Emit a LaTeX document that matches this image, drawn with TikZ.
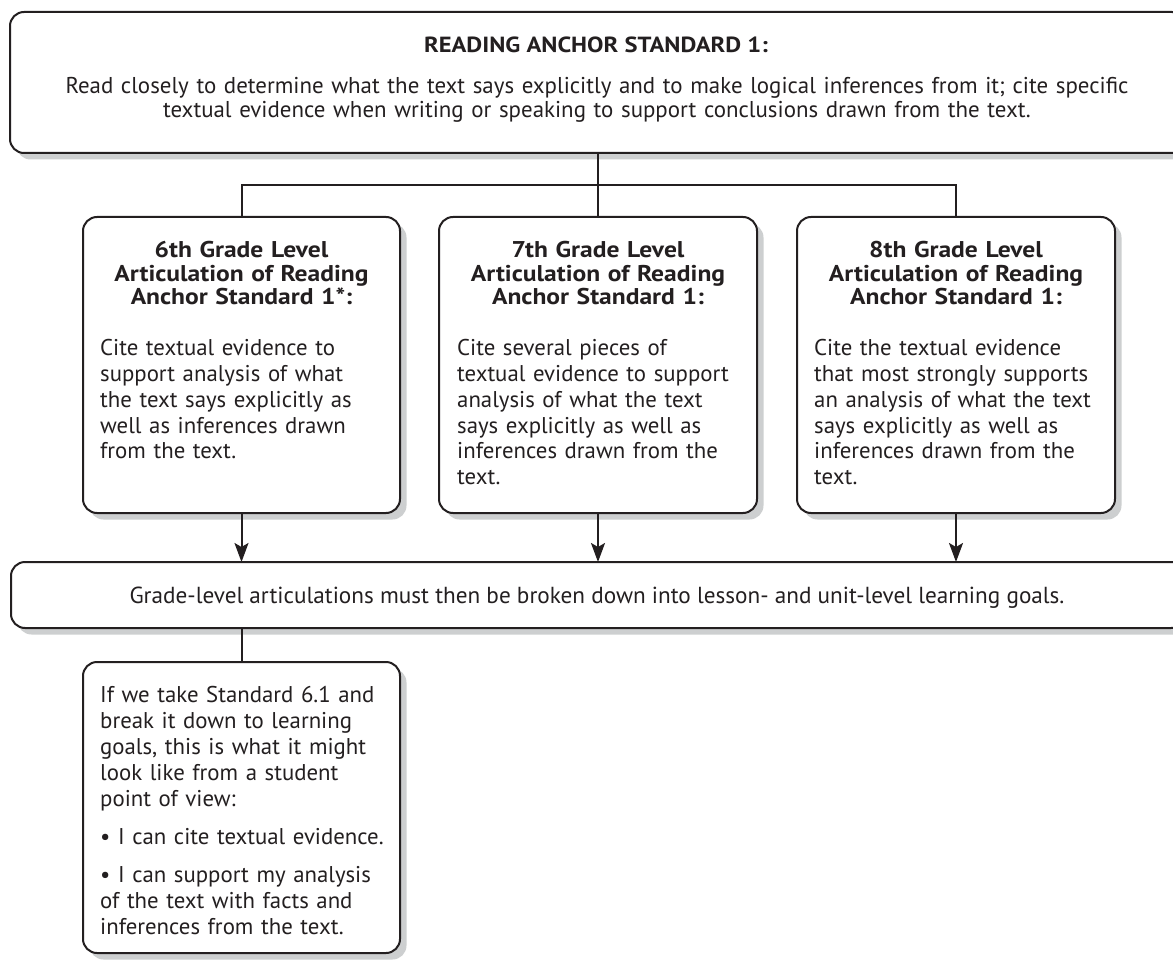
\documentclass[tikz,border=0pt]{standalone}
\usepackage{fontspec}
\setmainfont{PT Sans}[BoldFeatures={FakeStretch=1.12}]
\usetikzlibrary{arrows.meta,shadows}
\definecolor{ink}{HTML}{231F20}
\definecolor{shade}{HTML}{CDCFD0}
\begin{document}
\begin{tikzpicture}[x=1pt,y=-1pt,
  box/.style={draw=ink, line width=2pt, fill=white, rounded corners=14pt, inner sep=0pt, outer sep=0pt,
    drop shadow={shadow xshift=6.5pt, shadow yshift=-6.5pt, fill=shade, opacity=1}},
  conn/.style={draw=ink, line width=2pt},
  arr/.style={conn, -{Stealth[length=19pt,width=14pt,inset=4pt]}},
  hd/.style={text=ink, inner sep=0pt, text width=310pt, align=center, font=\bfseries\fontsize{22.8}{23.5}\selectfont},
  bd/.style={text=ink, inner sep=0pt, text width=300pt, align=left, font=\fontsize{22.8}{26}\selectfont},
  ln/.style={text=ink, inner sep=0pt, font=\fontsize{22.9}{24}\selectfont}]
\useasboundingbox (0,0) rectangle (1173,960);
\begin{scope}
\clip (0,0) rectangle (1173,960);
% boxes
\node[box, minimum width=1176pt, minimum height=141pt] (top) at (598,82.5) {};
\node[box, minimum width=317pt, minimum height=296pt] (b1) at (241.5,365) {};
\node[box, minimum width=318pt, minimum height=296pt] (b2) at (598,365) {};
\node[box, minimum width=318pt, minimum height=296pt] (b3) at (956,365) {};
\node[box, minimum width=1174pt, minimum height=66pt] (bot) at (598,595) {};
\node[box, minimum width=317pt, minimum height=291pt] (b4) at (241.5,807.5) {};
% connectors
\coordinate (j) at (598,185);
\draw[conn] (top.south) -- (j);
\draw[conn] (b1.north) |- (b3.north |- j) -- (b3.north);
\draw[conn] (j) -- (b2.north);
\draw[arr] (b1.south) -- (b1.south |- bot.north);
\draw[arr] (b2.south) -- (b2.south |- bot.north);
\draw[arr] (b3.south) -- (b3.south |- bot.north);
\draw[conn] (b4.north |- bot.south) -- (b4.north);
% texts
\node[ln, anchor=base, font=\bfseries\fontsize{21.9}{26}\selectfont] (t1) at (596,53) {READING ANCHOR STANDARD 1:};
\node[ln, anchor=base, text width=1150pt, align=center] (t2) at (597,94)
  {Read closely to determine what the text says explicitly and to make logical inferences from it; cite specific\\
   textual evidence when writing or speaking to support conclusions drawn from the text.};
\node[hd, anchor=base] (h1) at (241.5,258) {6th Grade Level\\Articulation of Reading\\Anchor Standard 1*:};
\node[hd, anchor=base] (h2) at (598,258) {7th Grade Level\\Articulation of Reading\\Anchor Standard 1:};
\node[hd, anchor=base] (h3) at (956,258) {8th Grade Level\\Articulation of Reading\\Anchor Standard 1:};
\node[bd, anchor=base west] (p1) at (100,355) {Cite textual evidence to\\support analysis of what\\the text says explicitly as\\well as inferences drawn\\from the text.};
\node[bd, anchor=base west] (p2) at (457,355) {Cite several pieces of\\textual evidence to support\\analysis of what the text\\says explicitly as well as\\inferences drawn from the\\text.};
\node[bd, anchor=base west] (p3) at (814,355) {Cite the textual evidence\\that most strongly supports\\an analysis of what the text\\says explicitly as well as\\inferences drawn from the\\text.};
\node[ln, anchor=base, font=\fontsize{23.2}{24}\selectfont] (g) at (597,603) {Grade-level articulations must then be broken down into lesson- and unit-level learning goals.};
\node[bd, anchor=base west] (p4) at (100,702) {If we take Standard 6.1 and\\break it down to learning\\goals, this is what it might\\look like from a student\\point of view:\\[12pt]\textbullet{} I can cite textual evidence.\\[12pt]\textbullet{} I can support my analysis\\of the text with facts and\\inferences from the text.};
\end{scope}
\end{tikzpicture}
\end{document}
